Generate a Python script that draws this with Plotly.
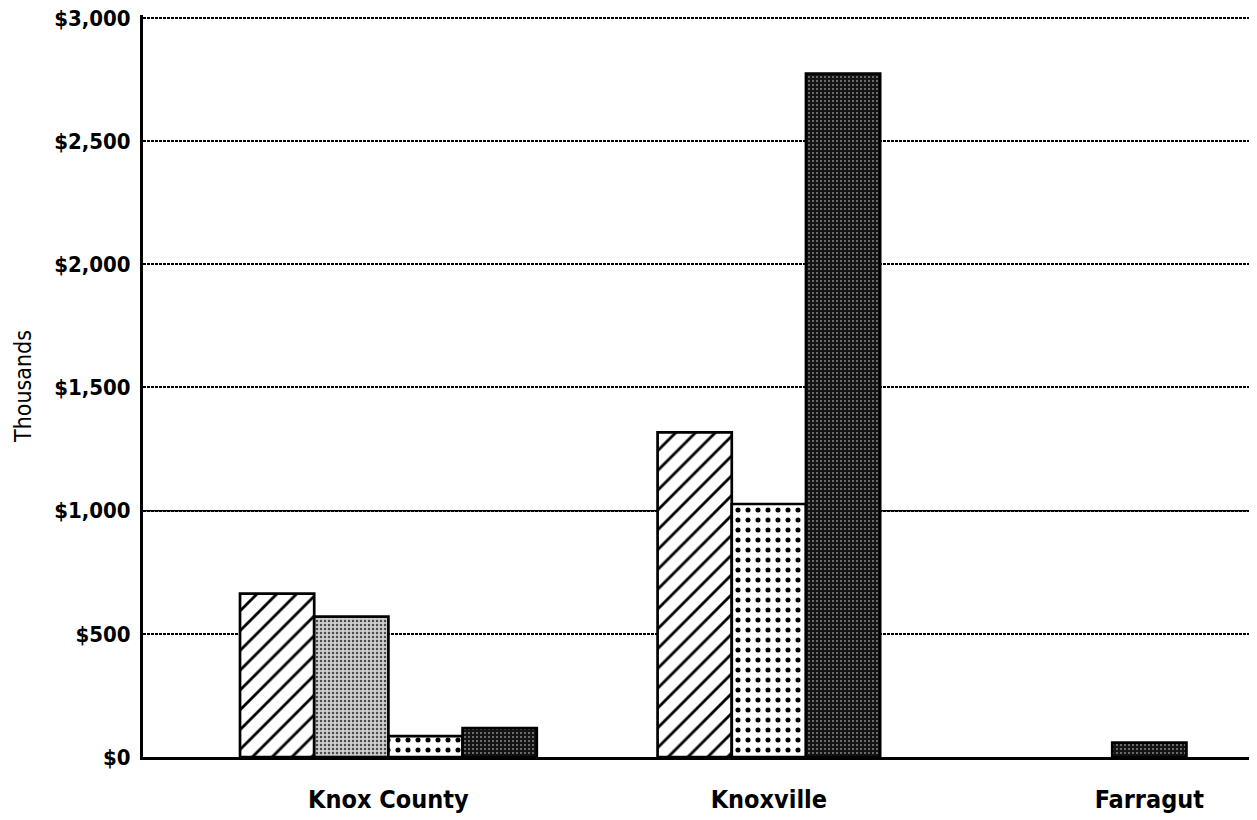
import plotly.graph_objects as go

categories = ["Knox County", "Knoxville", "Farragut"]
hatched = [663, 1318, 0]
light_stipple = [570, 0, 0]
coarse_dots = [85, 1027, 0]
dark_stipple = [117, 2774, 58]
y_ticks = [0, 500, 1000, 1500, 2000, 2500, 3000]
y_tick_labels = ["$" + format(v, ",") for v in y_ticks]

series = [
    ("Series 1", hatched, dict(color="white", pattern=dict(shape="/", fgcolor="black", fgopacity=1, size=14, solidity=0.2))),
    ("Series 2", light_stipple, dict(color="#cfcfcf", pattern=dict(shape=".", fgcolor="#4a4a4a", fgopacity=1, size=4, solidity=0.3))),
    ("Series 3", coarse_dots, dict(color="white", pattern=dict(shape=".", fgcolor="black", fgopacity=1, size=10, solidity=0.2))),
    ("Series 4", dark_stipple, dict(color="#141414", pattern=dict(shape=".", fgcolor="#8c8c8c", fgopacity=1, size=4, solidity=0.18))),
]

BAR_W = 0.195
# number of non-zero bars per category, and index of each bar within its category
counts = [sum(1 for _, vals, _ in series if vals[i] > 0) for i in range(len(categories))]

fig = go.Figure()
slot = [0] * len(categories)
for name, vals, mk in series:
    xs, ys, offs = [], [], []
    for i, v in enumerate(vals):
        if v > 0:
            xs.append(categories[i])
            ys.append(v)
            offs.append((slot[i] - counts[i] / 2) * BAR_W)
            slot[i] += 1
    fig.add_trace(go.Bar(
        x=xs, y=ys, name=name, offset=offs, width=BAR_W,
        marker=dict(line=dict(color="black", width=2.7), **mk),
        showlegend=False,
    ))

narrow = "DejaVu Sans Condensed, DejaVu Sans, sans-serif"

fig.update_layout(
    width=1257, height=820,
    margin=dict(l=135, r=0, t=7, b=71, autoexpand=False),
    paper_bgcolor="white", plot_bgcolor="white",
    barmode="overlay",
    xaxis=dict(
        type="category", categoryorder="array", categoryarray=categories,
        range=[-0.645, 2.304], automargin=False,
        showline=True, linecolor="black", linewidth=3,
        showgrid=False, ticks="",
        tickfont=dict(family=narrow, size=25, color="black", weight="bold"),
        ticklabelstandoff=18,
    ),
    yaxis=dict(
        range=[0, 3012], automargin=False,
        tickvals=y_ticks, ticktext=y_tick_labels, ticklabeloverflow="allow",
        showline=True, linecolor="black", linewidth=3,
        showgrid=True, gridcolor="black", gridwidth=1.5, griddash="3px,1px",
        zeroline=False, ticks="",
        tickfont=dict(family=narrow, size=22, color="black", weight="bold"),
        ticklabelstandoff=5,
        title=dict(text="Thousands", font=dict(family=narrow, size=23, color="black"), standoff=17),
    ),
)

# the $1,000 gridline is drawn solid in the original
fig.add_hline(y=y_ticks[2], line=dict(color="black", width=1.5), layer="below")

fig.write_html("out.html")
